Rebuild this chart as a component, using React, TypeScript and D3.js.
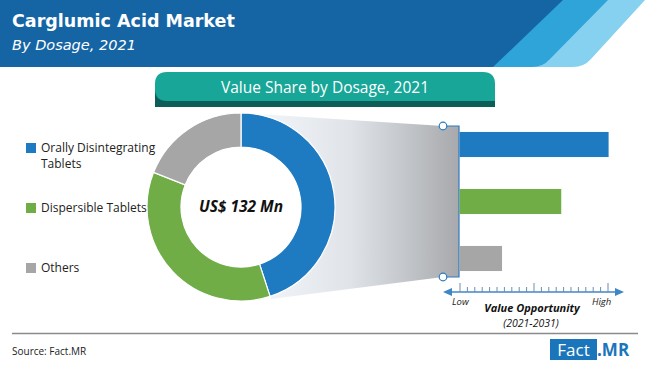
import { useMemo } from "react";
import * as d3 from "d3";

const categories = ["Orally Disintegrating Tablets", "Dispersible Tablets", "Others"];
const legendLines = [["Orally Disintegrating", "Tablets"], ["Dispersible Tablets"], ["Others"]];
const valueShare = [45, 36, 19];
const valueOpportunity = [100, 68, 28];
const colors = ["#1f7bc1", "#70ad47", "#a6a6a6"];
const totalLabel = "US$ 132 Mn";
const axisLabels = ["Low", "High"];

const W = 650;
const H = 366;
const bodyFont = "'Open Sans', 'Noto Sans', sans-serif";
const headFont = "'DejaVu Sans', sans-serif";

export default function App() {
    const cx = 241;
    const cy = 207;
    const outerR = 94;
    const innerR = 60;

    const arcs = useMemo(() => {
        const pie = d3.pie<number>().sort(null).value((d) => d)(valueShare);
        const gen = d3.arc<d3.PieArcDatum<number>>().innerRadius(innerR).outerRadius(outerR);
        return pie.map((p) => gen(p) || undefined);
    }, []);

    const x = d3.scaleLinear().domain([0, 100]).range([460, 608]);
    const y = d3.scaleBand<string>().domain(categories).range([116, 287]).paddingInner(0.56).paddingOuter(0.28);
    const legendY = d3.scalePoint<string>().domain(categories).range([148, 268]);
    const ticks = d3.range(0, 101, 5);

    const axisY = 292;
    const funnelTop = 126;
    const funnelBottom = 277;
    const funnelX = 459;

    return (
        <svg width={W} height={H} style={{ position: "absolute", left: 0, top: 0, background: "#fff" }}>
            <defs>
                <linearGradient id="funnel" x1="0" x2="1" y1="0" y2="0">
                    <stop offset="0%" stopColor="#f6f8fb" />
                    <stop offset="50%" stopColor="#e0e4e9" />
                    <stop offset="100%" stopColor="#a7a9ac" />
                </linearGradient>
            </defs>

            {/* header band */}
            <path d="M0,0 L645,0 L591,59 Q584,67 573,67 L0,67 Z" fill="#86d1ef" />
            <path d="M0,0 L608,0 L550,59 Q543,67 532,67 L0,67 Z" fill="#2fa4d9" />
            <path d="M0,0 L563,0 L493,67 L0,67 Z" fill="#1565a5" />
            <text x={12} y={27} fill="#fff" fontFamily={headFont} fontWeight="bold" fontSize={17.5}>
                Carglumic Acid Market
            </text>
            <text x={12} y={50} fill="#fff" fontFamily={headFont} fontStyle="italic" fontSize={14.5}>
                By Dosage, 2021
            </text>

            {/* title box */}
            <path d="M167,78 L483,78 Q495,78 495,90 L495,107 L155,107 L155,90 Q155,78 167,78 Z" fill="#0d5e58" />
            <path d="M167,72 L483,72 Q495,72 495,84 L495,101 L167,101 Q155,101 155,89 L155,84 Q155,72 167,72 Z" fill="#17a697" />
            <text x={325} y={93} textAnchor="middle" fill="#fff" fontFamily={bodyFont} fontSize={15.5}>
                Value Share by Dosage, 2021
            </text>

            {/* funnel */}
            <path
                d={`M${cx},${cy - outerR} L443,${funnelTop} L${funnelX},${funnelTop} L${funnelX},${funnelBottom} L443,${funnelBottom} L${cx + 30},${cy + outerR - 2} Z`}
                fill="url(#funnel)"
            />
            <path
                d={`M443,${funnelTop} L${funnelX},${funnelTop} L${funnelX},${funnelBottom} L443,${funnelBottom}`}
                fill="none"
                stroke="#2a7bbf"
                strokeWidth={1.2}
            />
            <circle cx={443} cy={funnelTop} r={3.8} fill="#fff" stroke="#2a7bbf" strokeWidth={1.2} />
            <circle cx={443} cy={funnelBottom} r={3.8} fill="#fff" stroke="#2a7bbf" strokeWidth={1.2} />

            {/* donut */}
            <g transform={`translate(${cx},${cy})`}>
                {arcs.map((a, i) => (
                    <path key={i} d={a} fill={colors[i]} stroke="#fff" strokeWidth={1.2} />
                ))}
                <circle r={innerR} fill="#fff" />
                <text y={5} textAnchor="middle" fontFamily={bodyFont} fontWeight="bold" fontStyle="italic" fontSize={15.5} fill="#111">
                    {totalLabel}
                </text>
            </g>

            {/* legend */}
            {categories.map((c, i) => (
                <g key={c} transform={`translate(26,${legendY(c)})`}>
                    <rect x={0} y={-5} width={10} height={10} fill={colors[i]} />
                    {legendLines[i].map((line, j) => (
                        <text key={j} x={15} y={4 + j * 16} fontFamily={bodyFont} fontSize={12} fill="#222">
                            {line}
                        </text>
                    ))}
                </g>
            ))}

            {/* bars */}
            {categories.map((c, i) => (
                <rect
                    key={c}
                    x={funnelX + 0.6}
                    y={y(c)}
                    width={x(valueOpportunity[i]) - funnelX}
                    height={y.bandwidth()}
                    fill={colors[i]}
                />
            ))}

            {/* value opportunity axis */}
            <line x1={449} x2={618} y1={axisY} y2={axisY} stroke="#3f86c6" strokeWidth={1.5} />
            <path d={`M443,${axisY} L452,${axisY - 4} L452,${axisY + 4} Z`} fill="#3f86c6" />
            <path d={`M624,${axisY} L615,${axisY - 4} L615,${axisY + 4} Z`} fill="#3f86c6" />
            {ticks.map((t) => (
                <line
                    key={t}
                    x1={x(t)}
                    x2={x(t)}
                    y1={t % 50 === 0 ? axisY - 9 : axisY - 5}
                    y2={axisY}
                    stroke="#6c8db0"
                    strokeWidth={1}
                />
            ))}
            <text x={x(0) - 8} y={305} fontFamily={bodyFont} fontStyle="italic" fontSize={9.5} fill="#222">
                {axisLabels[0]}
            </text>
            <text x={x(100) - 16} y={305} fontFamily={bodyFont} fontStyle="italic" fontSize={9.5} fill="#222">
                {axisLabels[1]}
            </text>
            <text x={532} y={312} textAnchor="middle" fontFamily={bodyFont} fontWeight="bold" fontStyle="italic" fontSize={11} fill="#111">
                Value Opportunity
            </text>
            <text x={531} y={327} textAnchor="middle" fontFamily={bodyFont} fontStyle="italic" fontSize={10.5} fill="#111">
                (2021-2031)
            </text>

            {/* footer */}
            <line x1={12} x2={638} y1={333.5} y2={333.5} stroke="#8a8a8a" strokeWidth={1.5} />
            <text x={12} y={355} fontFamily={bodyFont} fontSize={10} fill="#222">
                Source: Fact.MR
            </text>
            <rect x={550} y={339} width={47} height={21} fill="#1b75bb" />
            <text x={573.5} y={356} textAnchor="middle" fontFamily={bodyFont} fontSize={17} fill="#fff">
                Fact
            </text>
            <text x={597} y={356} fontFamily={bodyFont} fontWeight="bold" fontSize={17} fill="#1b75bb">
                .MR
            </text>
        </svg>
    );
}
